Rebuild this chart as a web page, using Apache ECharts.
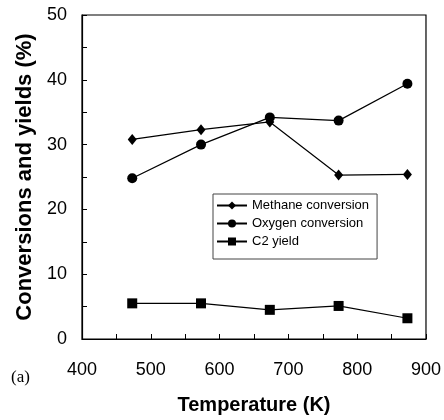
<!DOCTYPE html>
<html>
<head>
<meta charset="utf-8">
<script src="https://cdn.jsdelivr.net/npm/echarts@6/dist/echarts.min.js"></script>
<style>
  html, body { margin: 0; padding: 0; background: #fff; }
  #chart { width: 444px; height: 420px; }
</style>
</head>
<body>
<div id="chart"></div>
<script>
// temperatures (K)
const temps = [473, 573, 673, 773, 873];
const methaneConv = [30.8, 32.3, 33.5, 25.3, 25.4];
const oxygenConv = [24.8, 30.0, 34.2, 33.7, 39.4];
const c2Yield = [5.5, 5.5, 4.5, 5.1, 3.2];

const xTicks = [400, 500, 600, 700, 800, 900];
const yTicks = [0, 10, 20, 30, 40, 50];

const font = 'Liberation Sans, Arial, Helvetica, sans-serif';

const myChart = echarts.init(document.getElementById('chart'));

function pairs(ys) {
    return temps.map((t, i) => [t, ys[i]]);
}

function makeSeries(name, ys, symbol, size) {
    return {
        name: name,
        type: 'line',
        data: pairs(ys),
        symbol: symbol,
        symbolSize: size,
        showAllSymbol: true,
        lineStyle: { color: '#000', width: 1.2 },
        itemStyle: { color: '#000' },
        emphasis: { disabled: true },
        animation: false
    };
}

const option = {
    backgroundColor: '#fff',
    animation: false,
    grid: {
        left: 82, right: 16, top: 15, bottom: 77,
        show: true,
        borderColor: '#000',
        borderWidth: 1.2
    },
    legend: {
        orient: 'vertical',
        left: 213,
        top: 194,
        padding: [5, 8, 11, 3],
        borderColor: '#444',
        borderWidth: 1,
        itemWidth: 30,
        itemHeight: 10,
        itemGap: 5,
        selectedMode: false,
        textStyle: { fontFamily: font, fontSize: 13, lineHeight: 13, color: '#000' },
        data: ['Methane conversion', 'Oxygen conversion', 'C2 yield']
    },
    xAxis: {
        type: 'value',
        min: xTicks[0],
        max: xTicks[xTicks.length - 1],
        interval: 100,
        name: 'Temperature (K)',
        nameLocation: 'middle',
        nameGap: 56,
        nameTextStyle: { fontFamily: font, fontSize: 20, fontWeight: 'bold', color: '#000' },
        axisLine: { lineStyle: { color: '#000', width: 1.2 } },
        axisTick: { inside: true, length: 5, lineStyle: { color: '#000' } },
        minorTick: { show: true, splitNumber: 2, length: 5, lineStyle: { color: '#000' } },
        axisLabel: { fontFamily: font, fontSize: 18, color: '#000', margin: 22 },
        splitLine: { show: false }
    },
    yAxis: {
        type: 'value',
        min: yTicks[0],
        max: yTicks[yTicks.length - 1],
        interval: 10,
        name: 'Conversions and yields (%)',
        nameLocation: 'middle',
        nameGap: 46,
        nameTextStyle: { fontFamily: font, fontSize: 22, fontWeight: 'bold', color: '#000' },
        axisLine: { show: true, lineStyle: { color: '#000', width: 1.2 } },
        axisTick: { show: true, inside: true, length: 5, lineStyle: { color: '#000' } },
        minorTick: { show: true, splitNumber: 2, length: 5, lineStyle: { color: '#000' } },
        axisLabel: { fontFamily: font, fontSize: 18, color: '#000', margin: 15 },
        splitLine: { show: false }
    },
    graphic: [{
        type: 'text',
        left: 11,
        top: 369,
        style: { text: '(a)', fontFamily: 'Liberation Serif, Times New Roman, serif', fontSize: 17, fill: '#000' }
    }],
    series: [
        makeSeries('Methane conversion', methaneConv, 'diamond', [9, 11]),
        makeSeries('Oxygen conversion', oxygenConv, 'circle', 10),
        makeSeries('C2 yield', c2Yield, 'rect', 10)
    ]
};

myChart.setOption(option);
</script>
</body>
</html>
